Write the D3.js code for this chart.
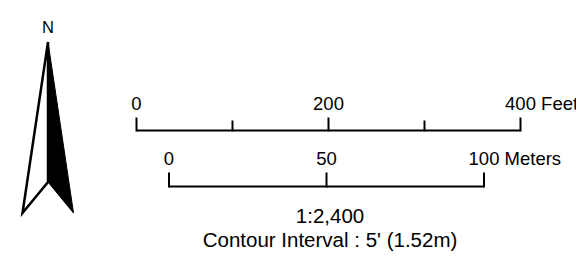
<!DOCTYPE html>
<html>
<head>
<meta charset="utf-8">
<script src="https://cdn.jsdelivr.net/npm/d3@7"></script>
<style>
html,body{margin:0;padding:0;background:#fff;}
svg{display:block;}
text{font-family:"Liberation Sans",Arial,sans-serif;fill:#000;}
</style>
</head>
<body>
<div id="chart"></div>
<script>
// ---- data ----
const feetTicks = [0, 100, 200, 300, 400];
const feetLabels = [0, 200, 400];
const feetUnit = "Feet";
const meterTicks = [0, 50, 100];
const meterLabels = [0, 50, 100];
const meterUnit = "Meters";
const scaleRatio = "1:2,400";
const contourText = "Contour Interval : 5' (1.52m)";
const northLabel = "N";

(function () {
const W = 576, H = 263;
const svg = d3.select("#chart").append("svg").attr("width", W).attr("height", H);
const FS = 18.5;
const FB = 20.5;

// ---- north arrow ----
const ax = 48, tipY = 42, baseY = 213, notchY = 182, half = 25.5;
const g = svg.append("g");
g.append("path")
  .attr("d", d3.line()([[ax, tipY], [ax - half, baseY], [ax, notchY]]) + "Z")
  .attr("fill", "#fff").attr("stroke", "#000").attr("stroke-width", 2.5).attr("stroke-linejoin", "miter");
g.append("path")
  .attr("d", d3.line()([[ax, tipY], [ax, notchY], [ax + half, baseY]]) + "Z")
  .attr("fill", "#000").attr("stroke", "#000").attr("stroke-width", 1).attr("stroke-linejoin", "miter");
g.append("text").attr("x", ax).attr("y", 33.3).attr("text-anchor", "middle")
  .attr("font-size", 16.5).text(northLabel);

// ---- scale bars ----
function bar(scale, ticks, labels, unit, lineY, majorH, minorH, labelY) {
  const bg = svg.append("g");
  const d = scale.domain();
  bg.append("line").attr("x1", scale(d[0])).attr("x2", scale(d[1]))
    .attr("y1", lineY).attr("y2", lineY).attr("stroke", "#000").attr("stroke-width", 2);
  bg.selectAll("line.tick").data(ticks).join("line").attr("class", "tick")
    .attr("x1", v => scale(v)).attr("x2", v => scale(v))
    .attr("y1", lineY + 1).attr("y2", v => lineY - (labels.includes(v) ? majorH : minorH))
    .attr("stroke", "#000").attr("stroke-width", 2);
  const lbl = bg.selectAll("text.lbl").data(labels).join("text").attr("class", "lbl")
    .attr("x", v => scale(v)).attr("y", labelY).attr("text-anchor", "middle")
    .attr("font-size", FS).text(v => v);
  const nodes = lbl.nodes();
  const w = nodes[nodes.length - 1].getComputedTextLength();
  bg.append("text").attr("x", scale(labels[labels.length - 1]) + w / 2)
    .attr("y", labelY).attr("font-size", FS)
    .text("\u00a0" + unit);
}

const xFeet = d3.scaleLinear().domain([0, 400]).range([136.5, 520.5]);
const xMeters = d3.scaleLinear().domain([0, 100]).range([169, 484]);
bar(xFeet, feetTicks, feetLabels, feetUnit, 130.5, 13, 10, 109.5);
bar(xMeters, meterTicks, meterLabels, meterUnit, 186.5, 14, 10, 165);

svg.append("text").attr("x", 330).attr("y", 222.5).attr("text-anchor", "middle")
  .attr("font-size", FB).text(scaleRatio);
svg.append("text").attr("x", 330).attr("y", 247).attr("text-anchor", "middle")
  .attr("font-size", FB).text(contourText);
})();
</script>
</body>
</html>
